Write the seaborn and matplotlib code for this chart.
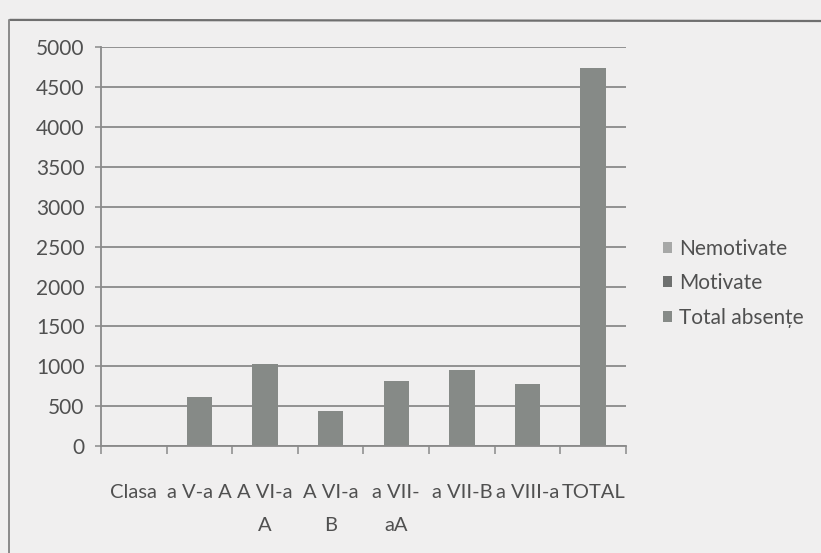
import numpy as np
import pandas as pd
import seaborn as sns
import matplotlib
matplotlib.use("Agg")
import matplotlib.pyplot as plt
from matplotlib.patches import Patch
from matplotlib.lines import Line2D

# Date
clase = ["Clasa", "a V-a A", "A VI-a A", "A VI-a B", "a VII-aA", "a VII-B", "a VIII-a", "TOTAL"]
etichete = ["Clasa", "a V-a A", "A VI-a\nA", "A VI-a\nB", "a VII-\naA", "a VII-B", "a VIII-a", "TOTAL"]
total_absente = [0, 620, 1025, 445, 815, 955, 775, 4740]
serii = ["Nemotivate", "Motivate", "Total absențe"]
culori = ["#a7a8a7", "#6e706f", "#868a87"]
y_ticks = list(range(0, 5001, 500))

fundal = "#f0efef"
gri = "#8a8a8a"
text_gri = "#505050"

sns.set_theme(style="white")
plt.rcParams["font.family"] = ["Lato", "DejaVu Sans"]

df = pd.DataFrame({"Clasa": clase, "Total absențe": total_absente})

fig, ax = plt.subplots(figsize=(8.21, 5.53), dpi=100)
fig.patch.set_facecolor(fundal)
ax.set_facecolor(fundal)
fig.subplots_adjust(left=0.123, right=0.7625, bottom=0.193, top=0.915)

sns.barplot(data=df, x="Clasa", y="Total absențe", order=clase, color=culori[2],
            saturation=1, width=0.39, linewidth=0, ax=ax)

ax.set_xlim(-0.5, len(clase) - 0.5)
ax.set_ylim(0, 5000)
ax.set_yticks(y_ticks)
ax.set_xlabel("")
ax.set_ylabel("")
ax.yaxis.grid(True, color=gri, linewidth=1.3)
ax.set_axisbelow(True)

for s in ["top", "right"]:
    ax.spines[s].set_visible(False)
for s in ["left", "bottom"]:
    ax.spines[s].set_color(gri)
    ax.spines[s].set_linewidth(1.3)

ax.tick_params(axis="y", length=4, width=1.1, color=gri, direction="out",
               labelsize=15, labelcolor=text_gri, pad=8, left=True)
ax.set_xticks(range(len(clase)))
ax.set_xticklabels(etichete)
ax.set_xticks(np.arange(-0.5, len(clase), 1), minor=True)
ax.tick_params(axis="x", which="major", length=0, labelsize=14.5,
               labelcolor=text_gri, pad=27)
ax.tick_params(axis="x", which="minor", length=6, width=1.1, color=gri,
               direction="out", bottom=True)
for t in ax.get_xticklabels():
    t.set_linespacing(2.15)
    t.set_verticalalignment("top")

handles = [Patch(facecolor=c, edgecolor="none") for c in culori]
fig.legend(handles, serii, loc="center left", bbox_to_anchor=(0.807, 0.488),
           frameon=False, fontsize=15, labelcolor=text_gri,
           handlelength=0.45, handleheight=0.45, handletextpad=0.35,
           labelspacing=0.7, borderpad=0, borderaxespad=0)

# chenarul scanat
fig.add_artist(Line2D([0.012, 1.0], [0.964, 0.962], color="#6f6f6f", lw=1.6))
fig.add_artist(Line2D([0.0105, 0.0105], [0.964, 0.0], color="#8a8a8a", lw=1.4))

fig.savefig("out.png", dpi=100, facecolor=fundal)
